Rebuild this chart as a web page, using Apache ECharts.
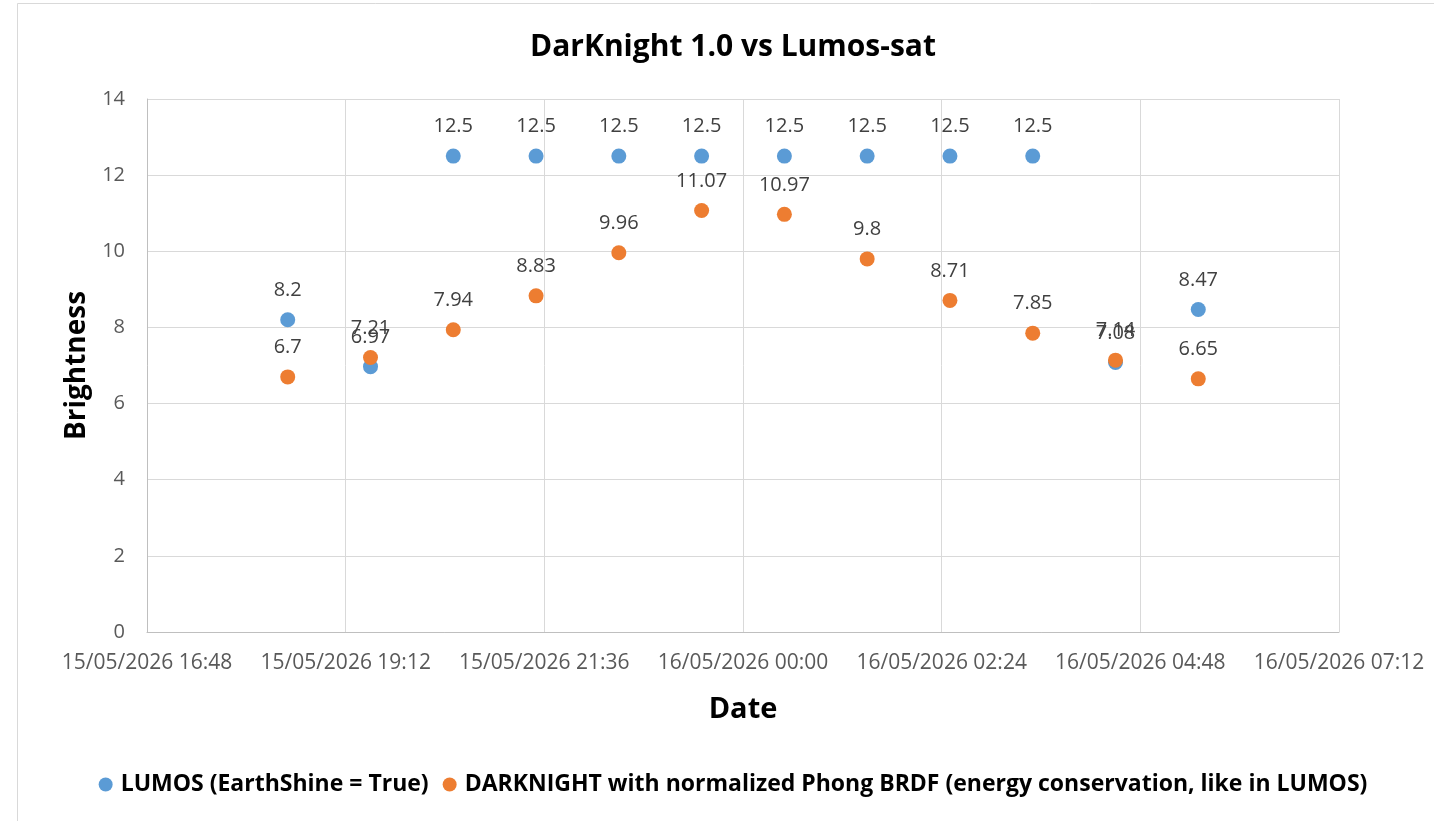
<!DOCTYPE html>
<html>
<head>
<meta charset="utf-8">
<title>DarKnight 1.0 vs Lumos-sat</title>
<script src="https://cdn.jsdelivr.net/npm/echarts@6/dist/echarts.min.js"></script>
<style>
  html, body { margin: 0; padding: 0; background: #fff; overflow: hidden; }
  #chart { width: 1466px; height: 821px; }
</style>
</head>
<body>
<div id="chart"></div>
<script>
// times of the samples (UTC, dd/mm hh:mm as shown on the axis)
var times = [
  '2026-05-15 18:30', '2026-05-15 19:30', '2026-05-15 20:30', '2026-05-15 21:30',
  '2026-05-15 22:30', '2026-05-15 23:30', '2026-05-16 00:30', '2026-05-16 01:30',
  '2026-05-16 02:30', '2026-05-16 03:30', '2026-05-16 04:30', '2026-05-16 05:30'
]
var lumos = [8.2, 6.97, 12.5, 12.5, 12.5, 12.5, 12.5, 12.5, 12.5, 12.5, 7.08, 8.47]
var darknight = [6.7, 7.21, 7.94, 8.83, 9.96, 11.07, 10.97, 9.8, 8.71, 7.85, 7.14, 6.65]
var seriesNames = [
  'LUMOS (EarthShine = True)',
  'DARKNIGHT with normalized Phong BRDF (energy conservation, like in LUMOS)'
]
var xStart = '2026-05-15 16:48'
var xEnd = '2026-05-16 07:12'
var yTicks = [0, 2, 4, 6, 8, 10, 12, 14]

function toMs(s) {
  var d = s.split(' ')[0].split('-')
  var t = s.split(' ')[1].split(':')
  return Date.UTC(+d[0], +d[1] - 1, +d[2], +t[0], +t[1])
}
function pad(n) { return n < 10 ? '0' + n : '' + n }
function fmtDate(ms) {
  var d = new Date(ms)
  return pad(d.getUTCDate()) + '/' + pad(d.getUTCMonth() + 1) + '/' + d.getUTCFullYear() +
    ' ' + pad(d.getUTCHours()) + ':' + pad(d.getUTCMinutes())
}
function pairs(vals) {
  return vals.map(function (v, i) { return [toMs(times[i]), v] })
}

var font = '"Open Sans", sans-serif'
var labelStyle = {
  show: true,
  position: 'top',
  distance: 12,
  color: '#404040',
  fontSize: 20,
  fontFamily: font,
  formatter: function (p) { return p.value[1] }
}

var chart = echarts.init(document.getElementById('chart'))
chart.setOption({
  animation: false,
  backgroundColor: '#fff',
  graphic: [{
    type: 'rect',
    shape: { x: 17.5, y: 3.5, width: 1431, height: 840 },
    style: { fill: 'none', stroke: '#d9d9d9', lineWidth: 1 },
    z: -1
  }],
  title: {
    text: 'DarKnight 1.0 vs Lumos-sat',
    left: 'center',
    top: 27,
    textStyle: { fontFamily: font, fontSize: 30, fontWeight: 'bold', color: '#000' }
  },
  legend: {
    data: seriesNames,
    left: 'center',
    top: 768,
    icon: 'circle',
    itemWidth: 14,
    itemHeight: 14,
    itemGap: 14,
    textStyle: { fontFamily: font, fontSize: 23, fontWeight: 'bold', color: '#000', padding: [0, 0, 0, 3] }
  },
  grid: { left: 147, right: 127, top: 99, bottom: 189, containLabel: false },
  xAxis: {
    type: 'value',
    min: toMs(xStart),
    max: toMs(xEnd),
    interval: 8640000,
    name: 'Date',
    nameLocation: 'middle',
    nameGap: 63,
    nameTextStyle: { fontFamily: font, fontSize: 29, fontWeight: 'bold', color: '#000' },
    axisLine: { show: true, lineStyle: { color: '#bfbfbf', width: 1 } },
    axisTick: { show: false },
    axisLabel: {
      margin: 21,
      color: '#595959',
      fontSize: 21,
      fontFamily: font,
      formatter: fmtDate
    },
    splitLine: { show: true, lineStyle: { color: '#d9d9d9', width: 1 } }
  },
  yAxis: {
    type: 'value',
    min: yTicks[0],
    max: yTicks[yTicks.length - 1],
    interval: 2,
    name: 'Brightness',
    nameLocation: 'middle',
    nameRotate: 90,
    nameGap: 50,
    nameTextStyle: { fontFamily: font, fontSize: 28, fontWeight: 'bold', color: '#000' },
    axisLine: { show: true, lineStyle: { color: '#bfbfbf', width: 1 } },
    axisTick: { show: false },
    axisLabel: { margin: 22, color: '#595959', fontSize: 20, fontFamily: font },
    splitLine: { show: true, lineStyle: { color: '#d9d9d9', width: 1 } }
  },
  series: [
    {
      name: seriesNames[0],
      type: 'scatter',
      data: pairs(lumos),
      symbolSize: 15,
      itemStyle: { color: '#5b9bd5', opacity: 1 },
      label: labelStyle
    },
    {
      name: seriesNames[1],
      type: 'scatter',
      data: pairs(darknight),
      symbolSize: 15,
      itemStyle: { color: '#ed7d31', opacity: 1 },
      label: labelStyle
    }
  ]
})
</script>
</body>
</html>
